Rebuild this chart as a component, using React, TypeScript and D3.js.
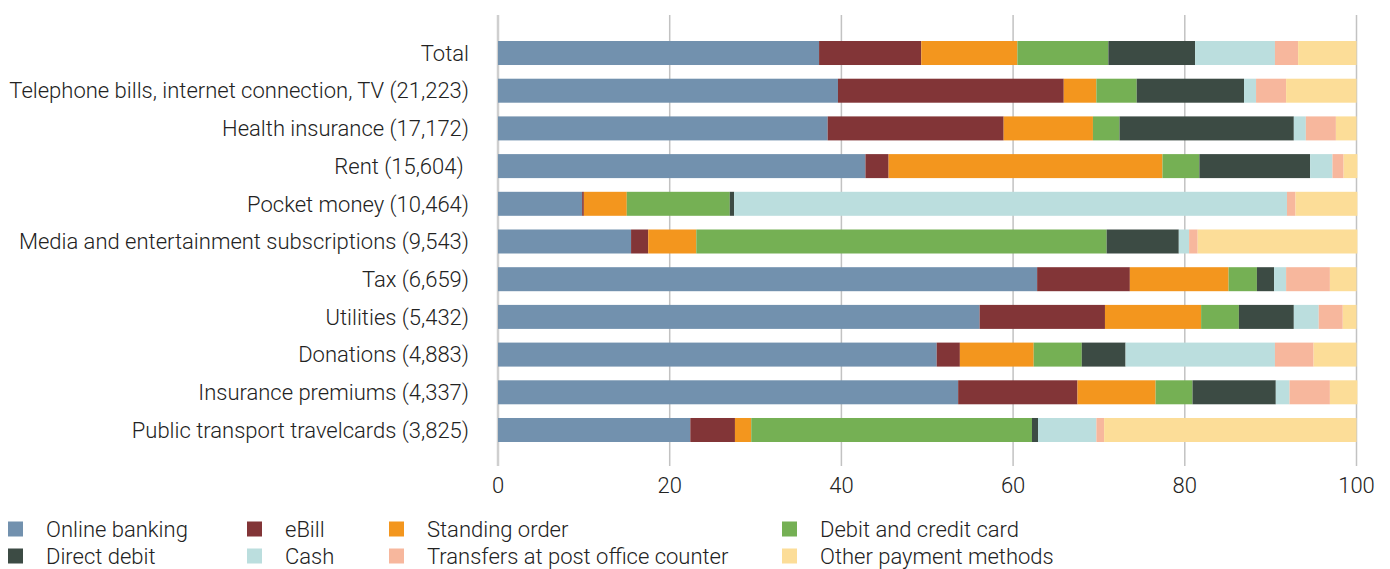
import React from "react";
import * as d3 from "d3";

const categories = [
  "Total",
  "Telephone bills, internet connection, TV (21,223)",
  "Health insurance (17,172)",
  "Rent (15,604) ",
  "Pocket money (10,464)",
  "Media and entertainment subscriptions (9,543)",
  "Tax (6,659)",
  "Utilities (5,432)",
  "Donations (4,883)",
  "Insurance premiums (4,337)",
  "Public transport travelcards (3,825)",
];

const seriesNames = [
  "Online banking",
  "eBill",
  "Standing order",
  "Debit and credit card",
  "Direct debit",
  "Cash",
  "Transfers at post office counter",
  "Other payment methods",
];

const seriesColors = [
  "#7291ae",
  "#823537",
  "#f3961e",
  "#75b054",
  "#3c4b44",
  "#bbdede",
  "#f7b79d",
  "#fcdd98",
];

const onlineBanking = [37.4, 39.6, 38.4, 42.8, 9.8, 15.5, 62.8, 56.1, 51.1, 53.6, 22.4];
const eBill = [11.9, 26.3, 20.5, 2.7, 0.2, 2.0, 10.8, 14.6, 2.7, 13.9, 5.2];
const standingOrder = [11.2, 3.8, 10.4, 31.9, 5.0, 5.6, 11.5, 11.2, 8.6, 9.1, 1.9];
const debitCreditCard = [10.6, 4.7, 3.1, 4.3, 12.0, 47.8, 3.3, 4.4, 5.6, 4.3, 32.7];
const directDebit = [10.1, 12.5, 20.3, 12.9, 0.5, 8.4, 2.0, 6.4, 5.1, 9.7, 0.7];
const cash = [9.3, 1.4, 1.4, 2.6, 64.4, 1.2, 1.4, 2.9, 17.4, 1.6, 6.8];
const postOffice = [2.7, 3.5, 3.5, 1.3, 1.0, 1.0, 5.1, 2.8, 4.5, 4.7, 0.9];
const otherMethods = [6.8, 8.2, 2.4, 1.6, 7.2, 18.6, 3.1, 1.6, 5.0, 3.2, 29.4];

const seriesValues = [
  onlineBanking,
  eBill,
  standingOrder,
  debitCreditCard,
  directDebit,
  cash,
  postOffice,
  otherMethods,
];

const xTicks = [0, 20, 40, 60, 80, 100];

const W = 1390;
const H = 569;
const FONT = "Roboto, 'Liberation Sans', sans-serif";
const FS = 22;

export default function App() {
  const x = d3.scaleLinear().domain([0, 100]).range([498, 1356.5]);
  const y = d3
    .scaleBand<string>()
    .domain(categories)
    .range([29.7, 453.3])
    .paddingInner(0.3634)
    .paddingOuter(0.3);

  const table = categories.map((c, i) => {
    const row: any = { cat: c };
    seriesNames.forEach((s, j) => (row[s] = seriesValues[j][i]));
    return row;
  });
  const stacked = d3.stack<any>().keys(seriesNames)(table);

  const legendCols = [8, 247, 389, 782];
  const legendRows = [529, 556];

  return (
    <svg
      width={W}
      height={H}
      style={{ position: "absolute", left: 0, top: 0, fontFamily: FONT }}
    >
      <rect width={W} height={H} fill="#ffffff" />
      {xTicks.map((t) => (
        <line
          key={t}
          x1={x(t)}
          x2={x(t)}
          y1={15}
          y2={466}
          stroke={t === 0 ? "#cfcfcf" : "#c2c2c2"}
          strokeWidth={t === 0 ? 2.5 : 1.5}
        />
      ))}
      {stacked.map((layer, j) => (
        <g key={layer.key} fill={seriesColors[j]}>
          {layer.map((d, i) => (
            <rect
              key={i}
              x={x(d[0])}
              width={Math.max(0, x(d[1]) - x(d[0]))}
              y={y(categories[i])}
              height={y.bandwidth()}
            />
          ))}
        </g>
      ))}
      {categories.map((c) => (
        <text
          key={c}
          x={469}
          y={(y(c) as number) + y.bandwidth() / 2}
          dy="0.35em"
          textAnchor="end"
          fontSize={FS}
          fontWeight={300}
          fill="#222"
          style={{ whiteSpace: "pre" }}
        >
          {c}
        </text>
      ))}
      {xTicks.map((t) => (
        <text
          key={t}
          x={x(t)}
          y={485}
          dy="0.35em"
          textAnchor="middle"
          fontSize={FS}
          fontWeight={300}
          fill="#222"
        >
          {t}
        </text>
      ))}
      {seriesNames.map((s, j) => {
        const col = j % 4;
        const row = Math.floor(j / 4);
        const lx = legendCols[col];
        const ly = legendRows[row];
        return (
          <g key={s}>
            <rect x={lx} y={ly - 7.5} width={15} height={15} fill={seriesColors[j]} />
            <text
              x={lx + 38}
              y={ly}
              dy="0.35em"
              fontSize={FS}
              fontWeight={300}
              fill="#222"
            >
              {s}
            </text>
          </g>
        );
      })}
    </svg>
  );
}
